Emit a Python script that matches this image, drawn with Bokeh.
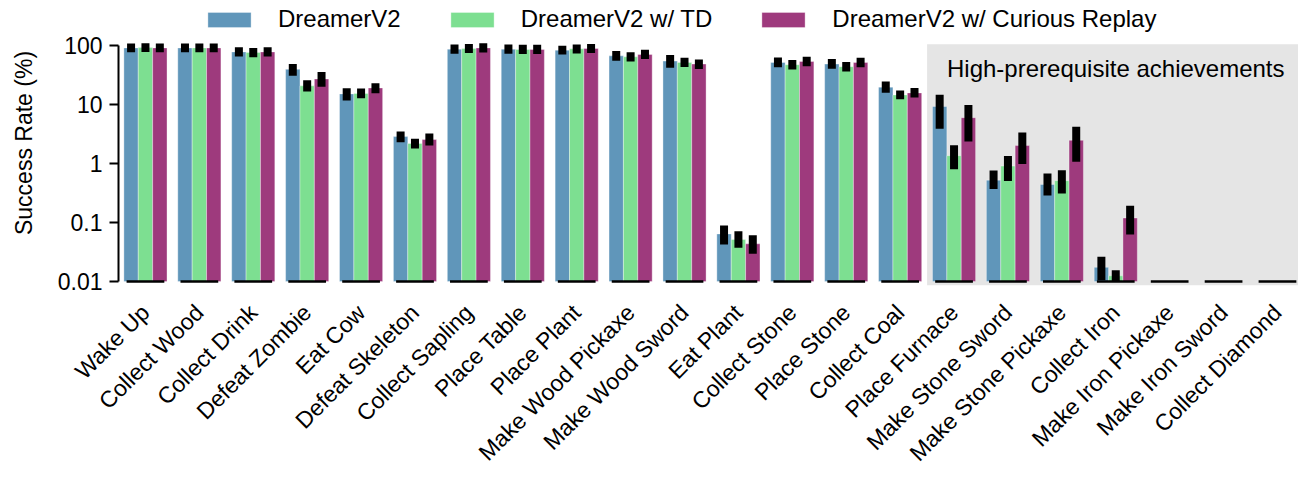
import math
from bokeh.plotting import figure
from bokeh.models import (ColumnDataSource, Range1d, FixedTicker, CustomJSTickFormatter,
                          BoxAnnotation, Label, Legend, LegendItem)
from bokeh.transform import dodge
from bokeh.embed import file_html
from bokeh.resources import INLINE

# ---------------- data ----------------
categories = ["Wake Up", "Collect Wood", "Collect Drink", "Defeat Zombie", "Eat Cow",
              "Defeat Skeleton", "Collect Sapling", "Place Table", "Place Plant",
              "Make Wood Pickaxe", "Make Wood Sword", "Eat Plant", "Collect Stone",
              "Place Stone", "Collect Coal", "Place Furnace", "Make Stone Sword",
              "Make Stone Pickaxe", "Collect Iron", "Make Iron Pickaxe", "Make Iron Sword",
              "Collect Diamond"]
series_names = ["DreamerV2", "DreamerV2 w/ TD", "DreamerV2 w/ Curious Replay"]

dv2 = [90, 90, 77, 39, 15, 2.84, 85.7, 85.7, 82.4, 66, 53.8, 0.064, 51, 48, 19.5, 9.2,
       0.52, 0.44, 0.0174, 0, 0, 0]
dv2_lo = [89, 89, 75, 35.6, 13.5, 2.66, 84, 84, 81, 64, 48.5, 0.0494, 49.5, 46.5, 18.4, 4.52,
          0.432, 0.334, 0.0123, 0, 0, 0]
dv2_hi = [91, 91, 79, 41, 16.0, 2.96, 88, 88, 84, 68, 58.2, 0.0757, 53, 50, 20.7, 12.4,
          0.645, 0.575, 0.0225, 0, 0, 0]

td = [91, 90, 75, 20.5, 15.2, 2.17, 88, 84.6, 86.7, 63.5, 51.2, 0.0514, 46.7, 43.2, 14.4, 1.35,
      0.90, 0.51, 0.0125, 0, 0, 0]
td_lo = [90, 89, 73, 19.2, 14.8, 2.09, 86, 83, 85, 62, 50, 0.0435, 45.5, 42, 14.2, 0.925,
         0.589, 0.361, 0.0115, 0, 0, 0]
td_hi = [92, 91, 77, 21.9, 15.8, 2.23, 90, 87, 88, 65, 52.5, 0.061, 48, 44.5, 14.6, 1.74,
         1.14, 0.653, 0.0133, 0, 0, 0]

cr = [90, 90, 77, 26.8, 18.9, 2.53, 90, 84.6, 88, 69.7, 48, 0.0435, 53, 51, 15.6, 5.93,
      2.0, 2.46, 0.119, 0, 0, 0]
cr_lo = [89, 89, 75, 23.2, 18.0, 2.34, 88, 83, 86, 68, 46.1, 0.0345, 51.5, 49.5, 15.2, 2.73,
         1.14, 1.25, 0.0728, 0, 0, 0]
cr_hi = [91, 91, 79, 30.1, 19.5, 2.74, 92, 87, 90, 72, 49.2, 0.052, 54.5, 52.5, 16.2, 8.3,
         2.84, 3.55, 0.164, 0, 0, 0]

ytick_values = [0.01, 0.1, 1, 10, 100]
ytick_labels = ["0.01", "0.1", "1", "10", "100"]

colors = ["#6096ba", "#7ddf91", "#9e3a7d"]
FONT = "Liberation Sans"

n = len(categories)
idx = list(range(n))

axes_top = 104  # top of the data area (shaded box top)

p = figure(width=1298, height=478, y_axis_type="log",
           x_range=Range1d(-0.5, 21.39), y_range=Range1d(0.00857, 571),
           output_backend="svg", toolbar_location=None,
           min_border_left=118, min_border_right=0, min_border_top=0, min_border_bottom=191)
p.outline_line_color = None
p.grid.visible = False
p.background_fill_color = "white"
p.border_fill_color = "white"

shade = BoxAnnotation(left=categories.index("Place Furnace") - 0.5, top=axes_top,
                      fill_color="#e5e5e5", fill_alpha=1.0, line_color=None, level="underlay")
p.add_layout(shade)

bar_w = 0.8 / 3
offsets = [-bar_w, 0.0, bar_w]
series = [(dv2, dv2_lo, dv2_hi), (td, td_lo, td_hi), (cr, cr_lo, cr_hi)]

renderers = []
err_sources = []
for (vals, lo, hi), col, off in zip(series, colors, offsets):
    keep = [i for i in idx if vals[i] > 0]
    src = ColumnDataSource(dict(x=keep, top=[vals[i] for i in keep],
                                lo=[lo[i] for i in keep], hi=[hi[i] for i in keep]))
    r = p.vbar(x=dodge("x", off), top="top", bottom=0.01, width=bar_w,
               fill_color=col, line_color="white", line_alpha=0.35, line_width=1, source=src)
    renderers.append(r)
    err_sources.append((src, off))

for src, off in err_sources:
    p.segment(x0=dodge("x", off), y0="lo", x1=dodge("x", off), y1="hi",
              line_color="black", line_width=8, line_cap="square", source=src)

base_src = ColumnDataSource(dict(x=idx, y=[0.01] * n))
p.segment(x0=dodge("x", -0.35), y0="y", x1=dodge("x", 0.35), y1="y",
          line_color="black", line_width=2.5, source=base_src)

p.add_layout(Label(x=18.0, y=40, text="High-prerequisite achievements", text_align="center",
                   text_baseline="alphabetic", text_font=FONT, text_font_size="24px",
                   text_color="black"))

# y axis
yax = p.yaxis[0]
yax.ticker = FixedTicker(ticks=ytick_values, minor_ticks=[])
yax.formatter = CustomJSTickFormatter(args=dict(vals=ytick_values, labs=ytick_labels),
                                      code="for (let i = 0; i < vals.length; i++) { if (Math.abs(Math.log10(tick) - Math.log10(vals[i])) < 1e-6) return labs[i]; } return '';")
yax.bounds = (0.01, 100)
yax.axis_line_width = 2
yax.major_tick_line_width = 2
yax.major_tick_out = 9
yax.major_tick_in = 0
yax.minor_tick_line_color = None
yax.major_label_standoff = 7
yax.major_label_text_font = FONT
yax.major_label_text_font_size = "23px"
yax.major_label_text_color = "black"
yax.axis_label = "Success Rate (%)"
yax.axis_label_text_font = FONT
yax.axis_label_text_font_size = "23px"
yax.axis_label_text_font_style = "normal"
yax.axis_label_text_color = "black"
yax.axis_label_standoff = 18

# x axis
xax = p.xaxis[0]
xax.ticker = FixedTicker(ticks=idx, minor_ticks=[])
xax.formatter = CustomJSTickFormatter(args=dict(cats=categories),
                                      code="return cats[Math.round(tick)];")
xax.axis_line_color = None
xax.major_tick_line_color = None
xax.minor_tick_line_color = None
xax.major_label_orientation = math.pi / 4
xax.major_label_standoff = 17
xax.major_label_text_font = FONT
xax.major_label_text_font_size = "23px"
xax.major_label_text_color = "black"

legend = Legend(items=[LegendItem(label=s, renderers=[r]) for s, r in zip(series_names, renderers)],
                orientation="horizontal", location=(84, 252),
                glyph_width=54, glyph_height=19, label_standoff=22, spacing=44,
                label_text_font=FONT, label_text_font_size="24px", label_text_color="black",
                padding=0, margin=0, border_line_color=None, background_fill_alpha=0)
p.add_layout(legend)

open("out.html", "w").write(file_html(p, INLINE))
